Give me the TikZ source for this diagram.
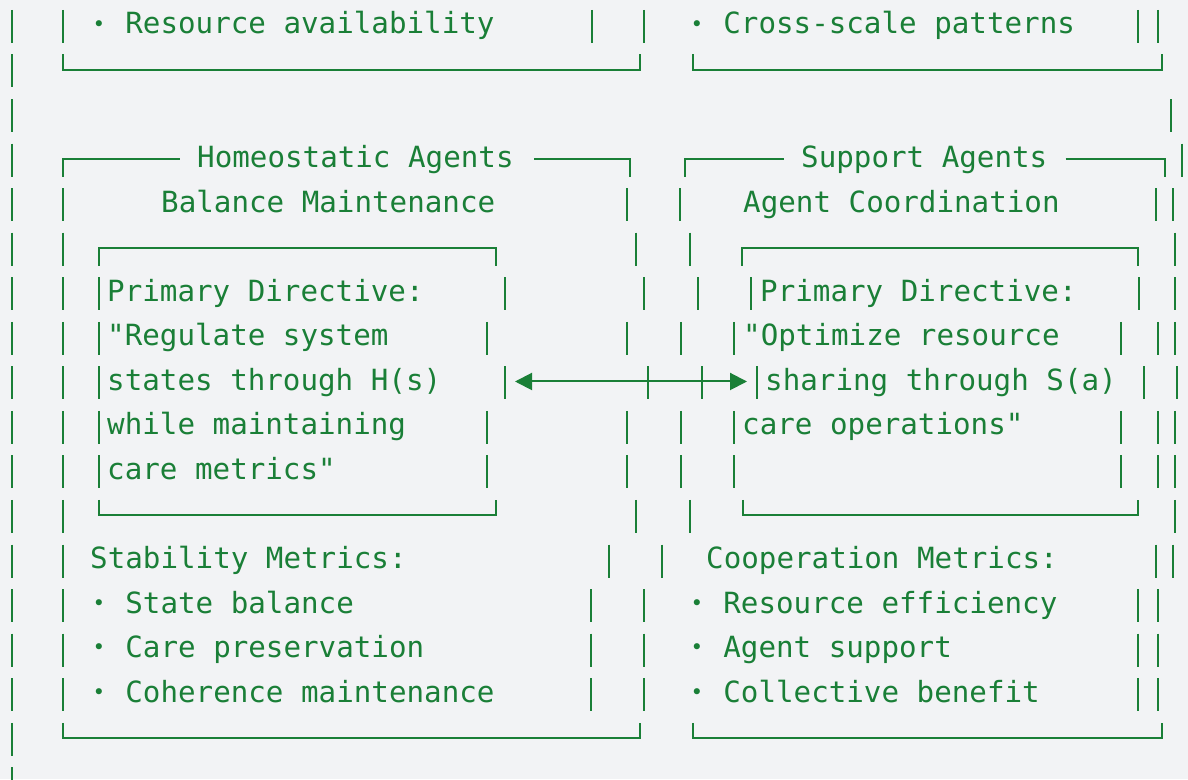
\documentclass[tikz,border=0pt]{standalone}
\usepackage{fontspec}
\setmonofont{DejaVu Sans Mono}
\usepackage{xcolor}
\usepackage{tikz}
\usetikzlibrary{arrows.meta}
\definecolor{AgGreen}{HTML}{1A7F37}
\definecolor{AgPaper}{HTML}{F2F3F5}
\newcommand{\agDot}{\makebox[.602em][c]{\raisebox{.1em}{\scalebox{.72}{•}}}}

\begin{document}
\begin{tikzpicture}[x=1pt,y=-44.55pt]
  \path[use as bounding box,fill=AgPaper] (0,-0.7632) rectangle (1188,16.7228);

  \tikzset{
    agText/.style={
      anchor=base west,
      inner sep=0pt,
      text=AgGreen,
      font=\ttfamily\fontsize{29.2}{35}\selectfont
    },
    agBar/.style={
      draw=AgGreen,
      line width=2pt
    },
    agRule/.style={
      draw=AgGreen,
      line width=2pt,
      line join=miter
    },
    agLink/.style={
      {Triangle[length=17pt,width=17pt]}-{Triangle[length=17pt,width=17pt]},
      draw=AgGreen,
      line width=2pt
    }
  }

  % vertical strokes, one list of x positions per text row
  \foreach \r/\xs in {
      0/{11.5,63,592,644,1138,1158},
      1/{11.5},
      2/{11.5,1171},
      3/{11.5,1182},
      4/{11.5,63,626.5,680,1156,1173},
      5/{11.5,63,636,690,1174.5},
      6/{11.5,63,98.7,505,644,698,750.6,1138.5,1175},
      7/{11.5,63,98.7,487,627,681,734,1121,1158,1175},
      8/{11.5,63,98.7,505,648,702,756.5,1144,1177},
      9/{11.5,63,98.7,487,627,681,734,1121,1158,1175},
      10/{11.5,63,98.7,487,627,681,734,1121,1158,1175},
      11/{11.5,63,636,690,1174.5},
      12/{11.5,63,609,662,1156,1173},
      13/{11.5,63,591,644,1138,1158},
      14/{11.5,63,591,644,1138,1158},
      15/{11.5,63,591,644,1138,1158},
      16/{11.5},
      17/{11.5}}
    \foreach \bx in \xs
      \draw[agBar] (\bx,\r-0.54) -- (\bx,\r+0.2);

  % tail of the two upper boxes
  \node[agText] (resAvail)   at (90,0)  {\agDot\ Resource availability};
  \node[agText] (crossScale) at (688,0) {\agDot\ Cross-scale patterns};
  \draw[agRule] (63,0.46) |- (640,0.8) -- (640,0.46);
  \draw[agRule] (692.5,0.46) |- (1162,0.8) -- (1162,0.46);

  % agent frames with their titles
  \node[agText] (homeTitle) at (197,3) {Homeostatic Agents};
  \node[agText] (suppTitle) at (801,3) {Support Agents};
  \draw[agRule] (63,3.2) |- (180,2.8);
  \draw[agRule] (534,2.8) -| (630,3.2);
  \draw[agRule] (685,3.2) |- (784,2.8);
  \draw[agRule] (1065.5,2.8) -| (1165,3.2);

  \node[agText] (homeSub) at (161,4) {Balance Maintenance};
  \node[agText] (suppSub) at (743,4) {Agent Coordination};

  % directive boxes
  \draw[agRule] (98.7,5.2) |- (495.6,4.8) -- (495.6,5.2);
  \draw[agRule] (742,5.2) |- (1138,4.8) -- (1138,5.2);

  \node[agText] (homeDirA) at (107,6)  {Primary Directive:};
  \node[agText] (homeDirB) at (107,7)  {"Regulate system};
  \node[agText] (homeDirC) at (107,8)  {states through H(s)};
  \node[agText] (homeDirD) at (107,9)  {while maintaining};
  \node[agText] (homeDirE) at (107,10) {care metrics"};

  \node[agText] (suppDirA) at (760,6) {Primary Directive:};
  \node[agText] (suppDirB) at (743,7) {"Optimize resource};
  \node[agText] (suppDirC) at (765,8) {sharing through S(a)};
  \node[agText] (suppDirD) at (742,9) {care operations"};

  \draw[agRule] (98.7,10.46) |- (495.6,10.8) -- (495.6,10.46);
  \draw[agRule] (743,10.46) |- (1138,10.8) -- (1138,10.46);

  % two-way link between the directives
  \coordinate (homeLink) at (515,7.8);
  \coordinate (suppLink) at (747,7.8);
  \draw[agLink] (homeLink) -- (suppLink);

  % metrics
  \node[agText] (homeMet)  at (90,12)  {Stability Metrics:};
  \node[agText] (homeMetA) at (90,13)  {\agDot\ State balance};
  \node[agText] (homeMetB) at (90,14)  {\agDot\ Care preservation};
  \node[agText] (homeMetC) at (90,15)  {\agDot\ Coherence maintenance};

  \node[agText] (suppMet)  at (706,12) {Cooperation Metrics:};
  \node[agText] (suppMetA) at (688,13) {\agDot\ Resource efficiency};
  \node[agText] (suppMetB) at (688,14) {\agDot\ Agent support};
  \node[agText] (suppMetC) at (688,15) {\agDot\ Collective benefit};

  \draw[agRule] (63,15.46) |- (640,15.8) -- (640,15.46);
  \draw[agRule] (692.5,15.46) |- (1162,15.8) -- (1162,15.46);
\end{tikzpicture}
\end{document}
